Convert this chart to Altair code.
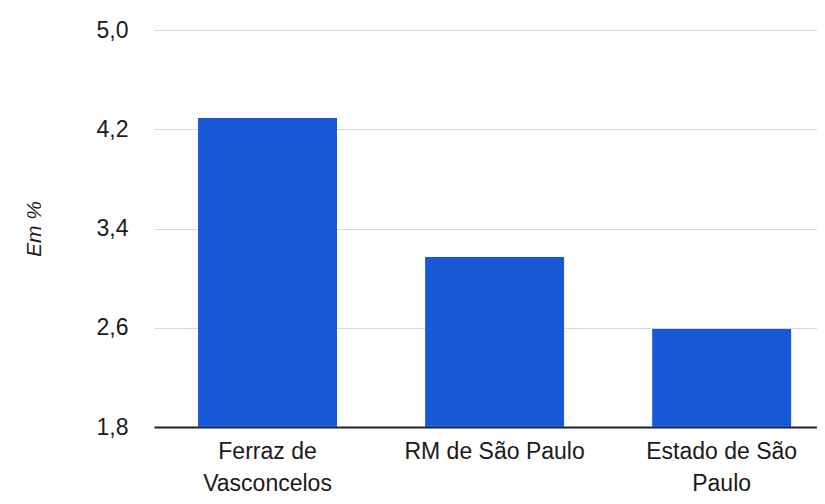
import altair as alt
import pandas as pd

categories = ["Ferraz de Vasconcelos", "RM de São Paulo", "Estado de São Paulo"]
values = [4.29, 3.17, 2.59]
label_lines = [["Ferraz de", "Vasconcelos"], ["RM de São Paulo"], ["Estado de São", "Paulo"]]
y_ticks = [1.8, 2.6, 3.4, 4.2, 5.0]
y_base = 1.8

df = pd.DataFrame({"cat": categories, "val": values})

expr_parts = []
for c, lines in zip(categories, label_lines):
    arr = "[" + ",".join("'" + l + "'" for l in lines) + "]"
    expr_parts.append(f"datum.label == '{c}' ? {arr} : ")
label_expr = "".join(expr_parts) + "datum.label"

FONT = "Liberation Sans"

chart = (
    alt.Chart(df)
    .mark_bar(color="#1758d6")
    .encode(
        x=alt.X(
            "cat:N",
            sort=categories,
            scale=alt.Scale(paddingInner=0.388, paddingOuter=0.154, align=0.63),
            axis=alt.Axis(
                title=None,
                labelAngle=0,
                labelExpr=label_expr,
                labelFont=FONT,
                labelFontSize=23,
                labelColor="#1a1a1a",
                labelLineHeight=32,
                labelPadding=13,
                labelLimit=400,
                ticks=False,
                domainColor="#222222",
                domainWidth=2,
                grid=False,
            ),
        ),
        y=alt.Y(
            "val:Q",
            scale=alt.Scale(domain=[1.8, 5.0], nice=False, zero=False),
            axis=alt.Axis(
                title="Em %",
                titleFont=FONT,
                titleFontSize=21,
                titleFontStyle="italic",
                titleFontWeight="normal",
                titleColor="#1a1a1a",
                titlePadding=52,
                values=y_ticks,
                labelExpr="replace(format(datum.value, '.1f'), '.', ',')",
                labelFont=FONT,
                labelFontSize=23,
                labelColor="#1a1a1a",
                labelPadding=26,
                ticks=False,
                domain=False,
                gridColor="#d9d9d9",
                gridWidth=1,
            ),
        ),
        y2=alt.datum(y_base),
    )
    .properties(
        width=663,
        height=397,
        background="white",
        autosize=alt.AutoSizeParams(type="none"),
        padding={"left": 146, "top": 22, "right": 0, "bottom": 69},
    )
    .configure_view(strokeWidth=0, stroke="transparent")
)

chart.save("out.html", embed_options={"renderer": "svg", "actions": False})
